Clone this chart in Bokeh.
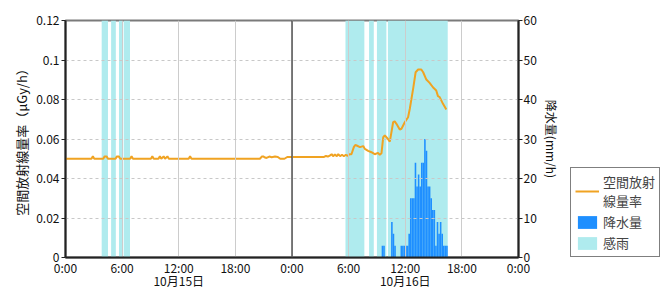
from bokeh.plotting import figure
from bokeh.layouts import row
from bokeh.models import (Range1d, LinearAxis, FixedTicker, Span, Legend, LegendItem)
from bokeh.embed import file_html
from bokeh.resources import INLINE

# ---------------- data ----------------
def hm(day, s):
    h, m = s.split(":")
    return day * 24 + int(h) + int(m) / 60.0

# air dose rate (uGy/h): time (day index, HH:MM) and value
dose_day = [0]*43 + [1]*55
dose_hm = ["00:00", "02:45", "02:54", "03:03", "04:00", "04:09", "04:21", "04:30",
           "05:18", "05:27", "05:39", "05:48", "06:51", "07:00", "07:09",
           "09:03", "09:12", "09:21", "09:51", "10:00", "10:09", "10:24", "10:33",
           "10:48", "10:57", "13:03", "13:12", "13:21", "20:36", "20:48", "20:57",
           "21:09", "21:18", "21:36", "21:51", "22:12", "22:30", "22:45", "23:12",
           "23:30", "23:40", "23:50", "23:59",
           "03:24", "03:36", "03:48", "04:00", "04:12", "04:21", "04:33", "04:45",
           "04:54", "05:06", "05:18", "05:30", "05:42", "05:54", "06:06", "06:18",
           "06:33", "06:42", "06:51", "07:12", "07:33", "07:43", "08:04", "08:25",
           "08:46", "09:07", "09:18", "09:29", "09:40", "09:50", "10:06", "10:22",
           "10:43", "10:53", "11:04", "11:25", "11:36", "11:57", "12:18", "12:29",
           "12:50", "13:06", "13:22", "13:42", "13:54", "14:14", "14:35", "14:56",
           "15:17", "15:28", "15:39", "16:00", "16:21"]
dose_val = [0.050, 0.050, 0.0512, 0.050, 0.050, 0.0512, 0.0512, 0.050,
            0.050, 0.0512, 0.0512, 0.050, 0.050, 0.0512, 0.050,
            0.050, 0.0512, 0.050, 0.050, 0.0512, 0.050, 0.0512, 0.050,
            0.0512, 0.050, 0.050, 0.0512, 0.050, 0.050, 0.0511, 0.0512,
            0.0506, 0.0504, 0.0511, 0.0508, 0.0511, 0.0509, 0.050, 0.050,
            0.0509, 0.0509, 0.0509, 0.0509,
            0.0509, 0.0514, 0.0511, 0.0516, 0.0523, 0.0513, 0.0522, 0.0513,
            0.0523, 0.0513, 0.0520, 0.0513, 0.0520, 0.0515, 0.0523, 0.0523,
            0.0559, 0.0570, 0.0567, 0.0559, 0.0564, 0.0550, 0.0540, 0.0533,
            0.0523, 0.0530, 0.0520, 0.0528, 0.0609, 0.0618, 0.0604, 0.0587,
            0.0685, 0.0689, 0.0677, 0.0648, 0.0652, 0.0685, 0.0710, 0.0753,
            0.0854, 0.0938, 0.0952, 0.0952, 0.0938, 0.0901, 0.0884, 0.0862,
            0.0846, 0.0817, 0.0812, 0.0778, 0.0749]

# precipitation (mm/h), 10-minute intervals on 10/16 (start times)
rain_hm = ["09:30", "09:40", "10:30", "10:40", "10:50",
           "11:30", "11:40", "11:50", "12:00", "12:10", "12:20",
           "12:30", "12:40", "12:50", "13:00", "13:10", "13:20", "13:30",
           "13:40", "13:50", "14:00", "14:10", "14:20", "14:30", "14:40",
           "14:50", "15:00", "15:10", "15:20", "15:30", "15:40", "15:50",
           "16:00", "16:10", "16:20"]
rain_mm = [3, 3, 9, 6, 3,
           3, 3, 3, 3, 3, 6,
           15, 15, 15, 24, 18, 21, 18,
           24, 24, 30, 27, 18, 18, 15,
           12, 12, 3, 9, 6, 9, 6,
           3, 3, 3]

# rain sensing (感雨) intervals
sense_start = [(0, "03:50"), (0, "04:50"), (0, "05:40"), (0, "06:10"),
               (1, "05:40"), (1, "08:10"), (1, "09:00"), (1, "10:10")]
sense_end = [(0, "04:30"), (0, "05:20"), (0, "06:00"), (0, "06:50"),
             (1, "07:40"), (1, "08:40"), (1, "10:00"), (1, "16:30")]

x_ticks = [0, 6, 12, 18, 24, 30, 36, 42, 48]
x_labels = ["0:00", "6:00", "12:00", "18:00", "0:00", "6:00", "12:00", "18:00", "0:00"]
date_ticks = [12, 36]
date_labels = ["10月15日", "10月16日"]
y_ticks = [0, 0.02, 0.04, 0.06, 0.08, 0.1, 0.12]
y_labels = ["0", "0.02", "0.04", "0.06", "0.08", "0.1", "0.12"]
r_ticks = [0, 10, 20, 30, 40, 50, 60]
legend_labels = ["空間放射\n線量率", "降水量", "感雨"]

LINE_C, BAR_C, BAND_C = "#F0A322", "#1E8FFF", "#AFEBEE"

# ---------------- main figure ----------------
FONT = "Noto Sans CJK JP"
p = figure(width=562, height=300, output_backend="svg", toolbar_location=None,
           x_range=Range1d(0, 48), y_range=Range1d(0, 0.12),
           min_border_left=65, min_border_right=43, min_border_top=20,
           min_border_bottom=43, x_axis_location=None, y_axis_location=None)
p.extra_y_ranges = {"rain": Range1d(0, 60)}
p.background_fill_color = "white"
p.border_fill_color = "white"
p.outline_line_color = "#7a7a7a"
p.outline_line_width = 2

bs = [hm(d, s) for d, s in sense_start]
be = [hm(d, s) for d, s in sense_end]
p.quad(left=bs, right=be, bottom=0, top=0.12, fill_color=BAND_C, line_color=None)

rx = [hm(1, s) + 1 / 12 for s in rain_hm]
p.vbar(x=rx, top=rain_mm, bottom=0, width=1 / 6, fill_color=BAR_C,
       line_color=None, y_range_name="rain")

dx = [hm(d, s) for d, s in zip(dose_day, dose_hm)]
p.line(dx, dose_val, line_color=LINE_C, line_width=2)

p.xgrid.ticker = FixedTicker(ticks=x_ticks)
p.xgrid.grid_line_color = "#cccccc"
p.ygrid.ticker = FixedTicker(ticks=y_ticks)
p.ygrid.grid_line_color = "#c8c8c8"
p.ygrid.grid_line_dash = "3 3"
p.xgrid.level = "glyph"
p.ygrid.level = "glyph"

p.add_layout(Span(location=24, dimension="height", line_color="#555555",
                  line_width=1.5))

def style(ax, size="12px"):
    ax.major_label_text_font = FONT
    ax.major_label_text_font_size = size
    ax.major_label_text_color = "#111111"
    ax.axis_label_text_font = FONT
    ax.axis_label_text_font_style = "normal"
    ax.axis_label_text_color = "#111111"
    ax.axis_line_color = "#222222"
    ax.axis_line_width = 2
    ax.major_tick_line_color = "#222222"
    ax.minor_tick_line_color = None

yl = LinearAxis(ticker=FixedTicker(ticks=y_ticks),
                major_label_overrides={t: l for t, l in zip(y_ticks, y_labels)},
                axis_label="空間放射線量率（μGy/h）")
style(yl)
yl.axis_label_text_font_size = "13px"
yl.major_tick_out = 4
yl.major_tick_in = 0
yl.major_label_standoff = 2
yl.axis_label_standoff = 2
p.add_layout(yl, "left")

yr = LinearAxis(y_range_name="rain", ticker=FixedTicker(ticks=r_ticks),
                axis_label="降水量(mm/h)")
style(yr)
yr.axis_label_text_font_size = "12px"
yr.major_tick_out = 4
yr.major_tick_in = 0
yr.major_label_standoff = 1
yr.axis_label_standoff = 3
p.add_layout(yr, "right")

xb = LinearAxis(ticker=FixedTicker(ticks=x_ticks),
                major_label_overrides={t: l for t, l in zip(x_ticks, x_labels)})
style(xb)
xb.major_tick_out = 0
xb.major_tick_in = 0
xb.major_label_standoff = 1
p.add_layout(xb, "below")

xd = LinearAxis(ticker=FixedTicker(ticks=date_ticks),
                major_label_overrides={t: l for t, l in zip(date_ticks, date_labels)})
style(xd)
xd.axis_line_color = None
xd.major_tick_line_color = None
xd.major_tick_out = 0
xd.major_tick_in = 0
xd.major_label_standoff = -7
p.add_layout(xd, "below")

# ---------------- legend panel ----------------
lf = figure(width=108, height=300, output_backend="svg", toolbar_location=None,
            x_range=Range1d(0, 1), y_range=Range1d(0, 1),
            min_border=0, x_axis_location=None, y_axis_location=None)
lf.outline_line_color = None
lf.grid.visible = False
lf.background_fill_color = "white"
lf.border_fill_color = "white"
# legend-only renderers, kept outside the visible range
r_line = lf.line(x=[5, 6], y=[5, 5], line_color=LINE_C, line_width=2)
r_bar = lf.vbar(x=[5], top=[6], bottom=[5], width=0.1, fill_color=BAR_C,
                line_color=None)
r_band = lf.quad(left=[5], right=[6], bottom=[5], top=[6], fill_color=BAND_C,
                 line_color=None)

legend = Legend(items=[LegendItem(label=legend_labels[0], renderers=[r_line]),
                       LegendItem(label=legend_labels[1], renderers=[r_bar]),
                       LegendItem(label=legend_labels[2], renderers=[r_band])],
                location=(8, 0), orientation="vertical",
                border_line_color="black", border_line_width=1,
                background_fill_color="white", background_fill_alpha=1,
                label_text_font=FONT, label_text_font_size="13px",
                label_text_line_height=1.0,
                glyph_width=24, glyph_height=16, padding=4, spacing=2,
                label_standoff=4, margin=0, label_height=14)
lf.add_layout(legend, "center")

layout = row(p, lf)
open("out.html", "w").write(file_html(layout, INLINE))
